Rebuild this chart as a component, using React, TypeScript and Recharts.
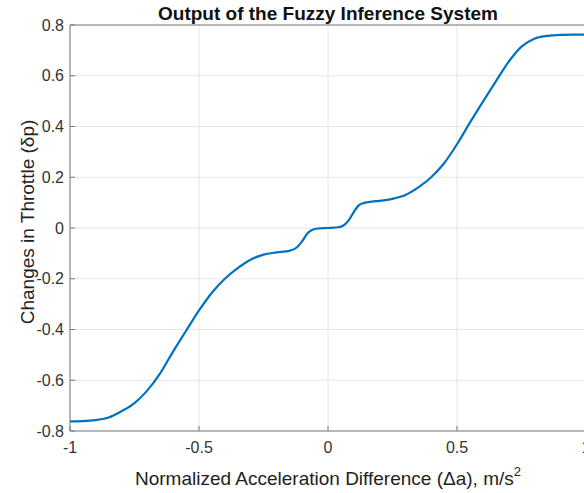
import React from 'react';
import { LineChart, Line, XAxis, YAxis, CartesianGrid, ReferenceLine } from 'recharts';

// input (normalized acceleration difference) and FIS output
const accelDiff = [
  -1, -0.95, -0.9, -0.85, -0.8, -0.75, -0.7, -0.65, -0.6, -0.55, -0.5, -0.45, -0.4, -0.35,
  -0.3, -0.25, -0.2, -0.15, -0.12, -0.1, -0.08, -0.06, -0.04, 0, 0.04, 0.06, 0.08, 0.1,
  0.12, 0.14, 0.17, 0.2, 0.25, 0.3, 0.35, 0.4, 0.45, 0.5, 0.55, 0.6, 0.65, 0.7, 0.75,
  0.8, 0.85, 0.9, 0.95, 1,
];
const throttleChange = [
  -0.762, -0.761, -0.757, -0.747, -0.722, -0.69, -0.64, -0.572, -0.486, -0.405, -0.325,
  -0.255, -0.2, -0.158, -0.125, -0.105, -0.096, -0.09, -0.076, -0.052, -0.022, -0.007,
  -0.002, 0, 0.003, 0.01, 0.03, 0.063, 0.09, 0.099, 0.104, 0.107, 0.115, 0.13, 0.16, 0.2,
  0.255, 0.33, 0.415, 0.497, 0.577, 0.655, 0.715, 0.746, 0.757, 0.761, 0.762, 0.762,
];
const xTicks = [-1, -0.5, 0, 0.5, 1];
const yTicks = [-0.8, -0.6, -0.4, -0.2, 0, 0.2, 0.4, 0.6, 0.8];

const data = accelDiff.map((x, i) => ({ x, y: throttleChange[i] }));

const font = '"Liberation Sans", Arial, Helvetica, sans-serif';
const axisColor = '#7a7a7a';

export default function App() {
  return (
    <div style={{ position: 'absolute', left: 0, top: 0, width: 584, height: 493, overflow: 'hidden', background: '#fff' }}>
      <div style={{ position: 'absolute', left: 0, top: 0, width: 584, textAlign: 'center', fontFamily: font, fontWeight: 'bold', fontSize: 19, lineHeight: '19px', paddingTop: 4, color: '#111', paddingLeft: 72 - 0, boxSizing: 'border-box' }}>
        <span style={{ display: 'inline-block', width: 512, textAlign: 'center' }}>Output of the Fuzzy Inference System</span>
      </div>
      <LineChart width={590} height={493} data={data} margin={{ top: 25, right: 4, bottom: 22, left: 0 }} style={{ fontFamily: font }}>
        <CartesianGrid stroke="#e6e6e6" strokeWidth={1} />
        <XAxis
          dataKey="x"
          type="number"
          domain={[-1, 1]}
          ticks={xTicks}
          height={40}
          stroke={axisColor}
          tickSize={-5}
          tickMargin={16}
          tick={{ fill: '#333', fontSize: 16 }}
          label={{
            content: () => (
              <text x={328} y={485} textAnchor="middle" fill="#222" fontSize={19} fontFamily={font}>
                Normalized Acceleration Difference (Δa), m/s
                <tspan fontSize={13} dy={-9}>2</tspan>
              </text>
            ),
          }}
        />
        <YAxis
          type="number"
          domain={[-0.8, 0.8]}
          ticks={yTicks}
          width={70}
          stroke={axisColor}
          tickSize={-5}
          tickMargin={11}
          tick={{ fill: '#333', fontSize: 16 }}
          label={{
            content: () => (
              <text x={34} y={222} transform="rotate(-90, 34, 222)" textAnchor="middle" fill="#222" fontSize={19} fontFamily={font}>
                Changes in Throttle (δp)
              </text>
            ),
          }}
        />
        <ReferenceLine y={0.8} stroke={axisColor} />
        <ReferenceLine x={1} stroke={axisColor} />
        <Line type="monotone" dataKey="y" stroke="#0072BD" strokeWidth={2.2} dot={false} isAnimationActive={false} />
      </LineChart>
    </div>
  );
}
